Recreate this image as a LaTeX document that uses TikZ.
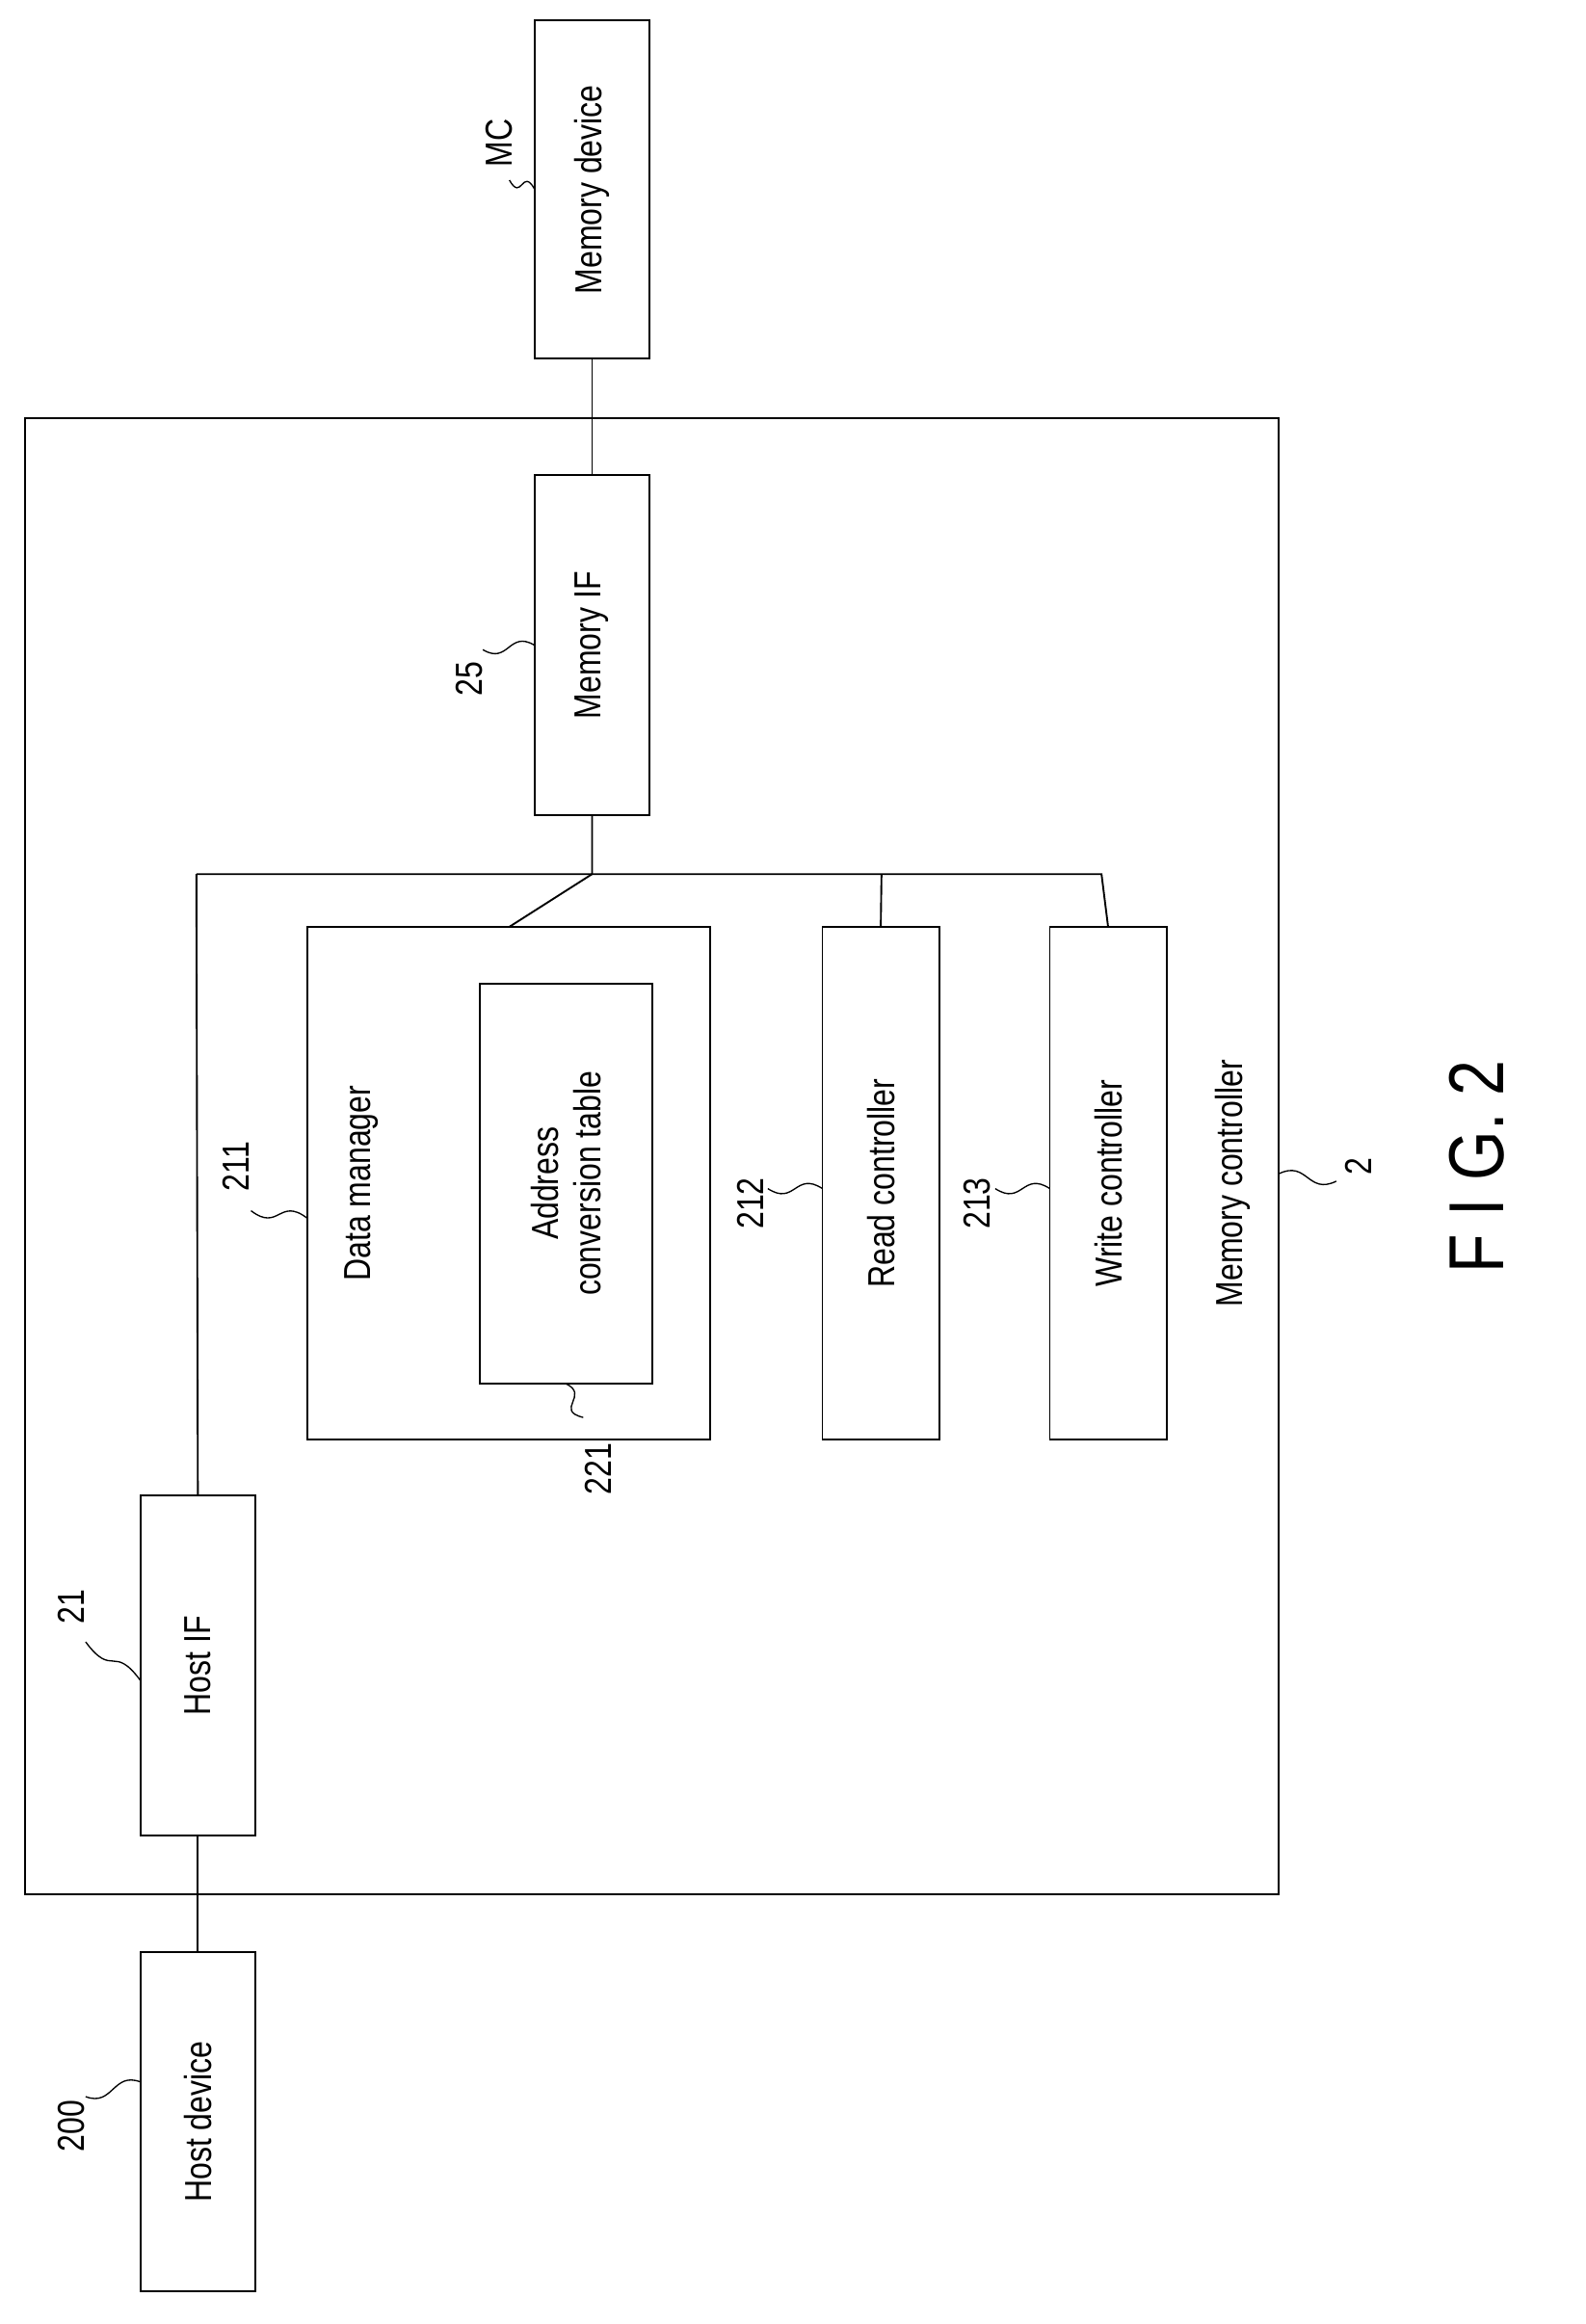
\documentclass[tikz,border=0pt]{standalone}
\usepackage{fontspec}
\setmainfont{Liberation Sans}[FakeStretch=0.82]
\usetikzlibrary{calc}
\begin{document}
\begin{tikzpicture}[x=0.04cm,y=-0.04cm,line width=1.4pt,
  blk/.style={draw,rotate=90,align=center,inner sep=0pt,font=\fontsize{29}{33}\selectfont},
  lbl/.style={rotate=90,font=\fontsize{29}{33}\selectfont},
  lead/.style={line width=1pt}]
\useasboundingbox (0,0) rectangle (1074,1574);
% boxes
\node[blk,minimum width=9.16cm,minimum height=3.12cm](md)at(401,128.5){Memory device};
\node[blk,minimum width=9.2cm,minimum height=3.12cm](mif)at(401,437){Memory IF};
\node[blk,minimum width=13.88cm,minimum height=10.92cm](dm)at(344.5,801.5){};
\node[lbl](dmt)at(245,801.5){Data manager};
\node[blk,minimum width=10.84cm,minimum height=4.68cm](act)at(383.5,801.5){Address\\conversion table};
\node[blk,minimum width=13.88cm,minimum height=3.16cm](rc)at(596.5,801.5){Read controller};
\node[blk,minimum width=13.88cm,minimum height=3.16cm](wc)at(750.5,801.5){Write controller};
\node[blk,minimum width=9.2cm,minimum height=3.12cm](hif)at(134,1128){Host IF};
\node[blk,minimum width=9.2cm,minimum height=3.12cm](hd)at(134,1437){Host device};
\draw(17,283)rectangle(866,1283);
\node[lbl](mct)at(835,801.5){Memory controller};
\node[rotate=90,font=\fontsize{60}{70}\selectfont](fig)at(1000,790){F I G. 2};
% connectors
\coordinate(bl)at(133,592);
\coordinate(bm)at(401,592);
\coordinate(br)at(597,592);
\coordinate(bw)at(746,592);
\draw(md)--(mif);
\draw(mif)--(bm)--(dm.east|-401,628);
\draw(bl)--(bw)--(wc.east|-746,628);
\draw(br)--(rc.east|-597,628);
\draw(bl)--(hif.east|-133,1013);
\draw(hif)--(hd);
% reference labels
\foreach \t/\px/\py/\ax/\ay/\bx/\by in{MC/338/97/345/122/362/128,25/318/460/327/440/362/437,
  211/160/790/170/820/208/825,212/508/815/520/805/557/805,213/662/815/674/805/711/805,
  21/48/1088/58/1112/95/1138,200/48/1440/58/1420/95/1410,2/920/790/905/800/866/795}
{\node[lbl](r\t)at(\px,\py){\t};
 \coordinate(s\t)at(\ax,\ay);\coordinate(e\t)at(\bx,\by);
 \draw[lead](s\t) .. controls ($(s\t)!0.5!(e\t)+(0,12)$) and ($(s\t)!0.5!(e\t)+(0,-12)$) .. (e\t);}
\node[lbl](r221)at(405,995){221};
\coordinate(s221)at(395,960);\coordinate(e221)at(383,937);
\draw[lead](s221) .. controls (375,955) and (400,945) .. (e221);
\end{tikzpicture}
\end{document}
